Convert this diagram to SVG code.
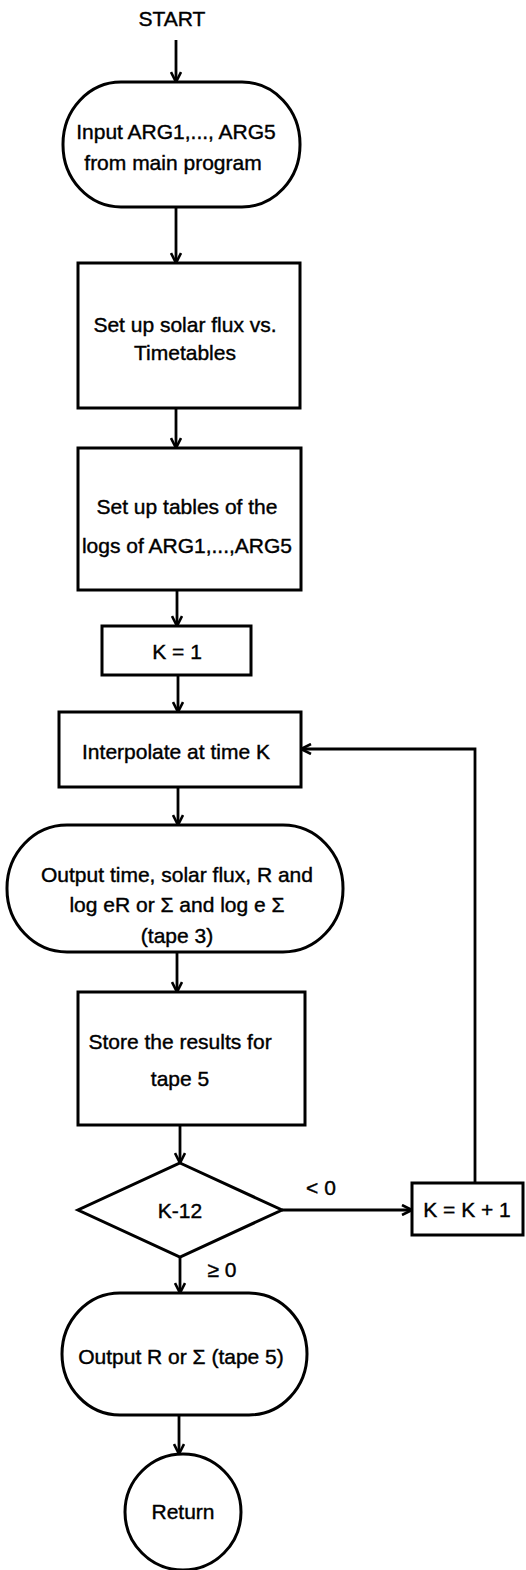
<svg xmlns="http://www.w3.org/2000/svg" width="526" height="1570" viewBox="0 0 526 1570">
  <style>
    .shape { fill: none; stroke: #000; stroke-width: 3; }
    .line { fill: none; stroke: #000; stroke-width: 2.8; }
    text { font-family: "Liberation Sans", Arial, sans-serif; font-size: 21px; fill: #000; stroke: #000; stroke-width: 0.4; text-anchor: middle; dominant-baseline: central; }
  </style>
  <defs>
    <marker id="arrow" viewBox="0 0 12 12" refX="11" refY="6" markerWidth="12" markerHeight="12" markerUnits="userSpaceOnUse" orient="auto">
      <path d="M1,1 L11,6 L1,11" fill="none" stroke="#000" stroke-width="2.6"/>
    </marker>
  </defs>
  <rect width="526" height="1570" fill="#fff"/>

  <g id="start">
    <text x="172" y="18">START</text>
  </g>

  <g id="input">
    <rect class="shape" x="63" y="82" width="237" height="125" rx="58" ry="62"/>
    <text x="176" y="131">Input ARG1,..., ARG5</text>
    <text x="173" y="162">from main program</text>
  </g>

  <g id="solar-flux">
    <rect class="shape" x="78" y="263" width="222" height="145"/>
    <text x="185" y="324">Set up solar flux vs.</text>
    <text x="185" y="352">Timetables</text>
  </g>

  <g id="log-tables">
    <rect class="shape" x="78" y="448" width="223" height="142"/>
    <text x="187" y="506">Set up tables of the</text>
    <text x="187" y="545">logs of ARG1,...,ARG5</text>
  </g>

  <g id="k-init">
    <rect class="shape" x="102" y="626" width="149" height="49"/>
    <text x="177" y="651">K = 1</text>
  </g>

  <g id="interpolate">
    <rect class="shape" x="59" y="712" width="242" height="75"/>
    <text x="176" y="751">Interpolate at time K</text>
  </g>

  <g id="output-tape3">
    <rect class="shape" x="7" y="825" width="336" height="127" rx="60" ry="63"/>
    <text x="177" y="874">Output time, solar flux, R and</text>
    <text x="177" y="904">log eR or Σ and log e Σ</text>
    <text x="177" y="935">(tape 3)</text>
  </g>

  <g id="store">
    <rect class="shape" x="78" y="992" width="227" height="133"/>
    <text x="180" y="1041">Store the results for</text>
    <text x="180" y="1078">tape 5</text>
  </g>

  <g id="test">
    <path class="shape" d="M180,1163 L282,1210 L180,1257 L78,1210 Z"/>
    <text x="180" y="1210">K-12</text>
  </g>

  <g id="k-increment">
    <rect class="shape" x="412" y="1183" width="111" height="52"/>
    <text x="467" y="1209">K = K + 1</text>
  </g>

  <g id="output-tape5">
    <rect class="shape" x="62" y="1293" width="245" height="122" rx="58" ry="61"/>
    <text x="181" y="1356">Output R or Σ (tape 5)</text>
  </g>

  <g id="return">
    <circle class="shape" cx="183" cy="1512" r="58"/>
    <text x="183" y="1511">Return</text>
  </g>

  <g id="connectors">
    <line class="line" x1="176" y1="40" x2="176" y2="82" marker-end="url(#arrow)"/>
    <line class="line" x1="176" y1="207" x2="176" y2="263" marker-end="url(#arrow)"/>
    <line class="line" x1="176" y1="408" x2="176" y2="448" marker-end="url(#arrow)"/>
    <line class="line" x1="177" y1="590" x2="177" y2="626" marker-end="url(#arrow)"/>
    <line class="line" x1="178" y1="675" x2="178" y2="712" marker-end="url(#arrow)"/>
    <line class="line" x1="178" y1="787" x2="178" y2="825" marker-end="url(#arrow)"/>
    <line class="line" x1="177" y1="952" x2="177" y2="992" marker-end="url(#arrow)"/>
    <line class="line" x1="180" y1="1125" x2="180" y2="1163" marker-end="url(#arrow)"/>
    <line class="line" x1="282" y1="1210" x2="412" y2="1210" marker-end="url(#arrow)"/>
    <text x="321" y="1187">&lt; 0</text>
    <polyline class="line" points="475,1183 475,749 301,749" marker-end="url(#arrow)"/>
    <line class="line" x1="180" y1="1257" x2="180" y2="1293" marker-end="url(#arrow)"/>
    <text x="222" y="1269">≥ 0</text>
    <line class="line" x1="179" y1="1415" x2="179" y2="1454" marker-end="url(#arrow)"/>
  </g>
</svg>
